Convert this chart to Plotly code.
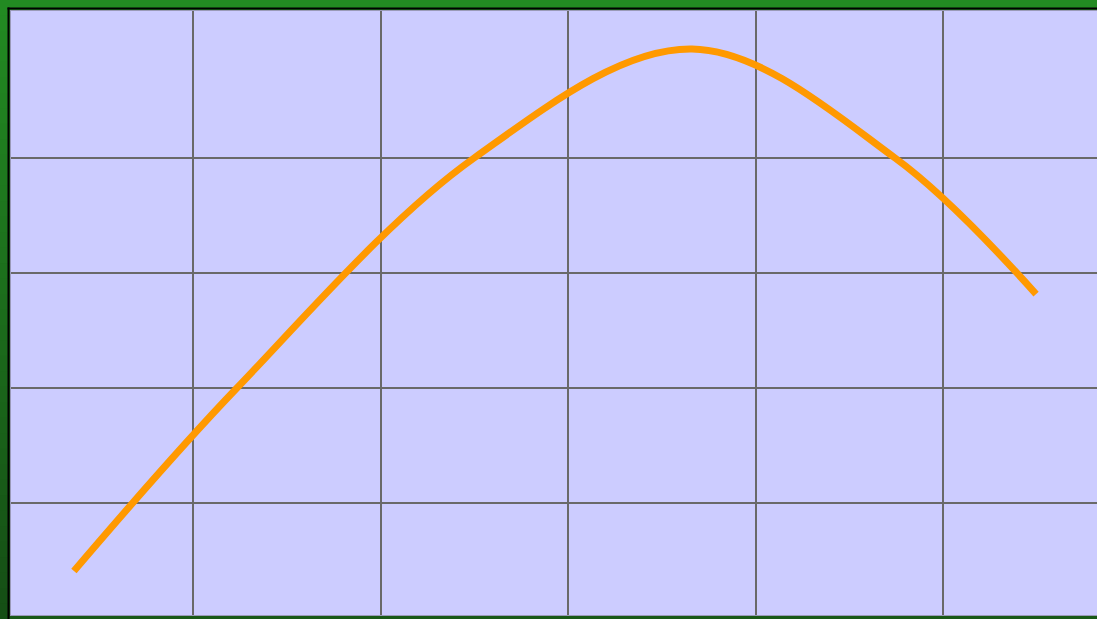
import plotly.graph_objects as go

# Curve readings (data units: x gridlines at 1..5, y gridlines at 1..4)
curve_x = [0.365, 1.229, 2.499, 3.661, 4.744, 5.496]
curve_y = [0.409, 1.991, 4.0, 4.948, 4.0, 2.817]

x_ticks = [1, 2, 3, 4, 5]
y_ticks = [1, 2, 3, 4]

W, H = 1097, 619
ML, MR, MT, MB = 10, 0, 10, 3
PW, PH = W - ML - MR, H - MT - MB

fig = go.Figure()
fig.add_trace(go.Scatter(
    x=curve_x, y=curve_y, mode="lines",
    line=dict(color="#FF9900", width=7, shape="spline", smoothing=1.0),
    hoverinfo="skip", showlegend=False,
))

shapes = []
# green vertical gradient in the left and bottom margins
top_c = (34, 139, 34)
bot_c = (21, 78, 21)
n = 40
y_lo = -MB / PH
y_hi = 1 + MT / PH
for i in range(n):
    t0 = i / n
    t1 = (i + 1) / n
    tm = (i + 0.5) / n
    c = tuple(round(bot_c[k] + (top_c[k] - bot_c[k]) * tm) for k in range(3))
    col = "rgb(%d,%d,%d)" % c
    shapes.append(dict(type="rect", xref="paper", yref="paper",
                       x0=-ML / PW, x1=0, y0=y_lo + (y_hi - y_lo) * t0,
                       y1=y_lo + (y_hi - y_lo) * t1 + 0.002,
                       fillcolor=col, line=dict(width=0), layer="below"))
shapes.append(dict(type="rect", xref="paper", yref="paper",
                   x0=0, x1=1, y0=-MB / PH, y1=0,
                   fillcolor="rgb(24,88,24)", line=dict(width=0), layer="below"))
# dark inset lines (left, top)
shapes.append(dict(type="line", xref="paper", yref="paper",
                   x0=-1.5 / PW, x1=-1.5 / PW, y0=-MB / PH, y1=1 + 2.5 / PH,
                   line=dict(color="#000000", width=2), layer="above"))
shapes.append(dict(type="line", xref="paper", yref="paper",
                   x0=-2.5 / PW, x1=1, y0=1 + 1.5 / PH, y1=1 + 1.5 / PH,
                   line=dict(color="#000000", width=2), layer="above"))
# light border on plot edge
shapes.append(dict(type="line", xref="paper", yref="paper",
                   x0=0.5 / PW, x1=0.5 / PW, y0=0, y1=1,
                   line=dict(color="#9a9ab8", width=1), layer="above"))
shapes.append(dict(type="line", xref="paper", yref="paper",
                   x0=0, x1=1, y0=1 - 0.5 / PH, y1=1 - 0.5 / PH,
                   line=dict(color="#9a9ab8", width=1), layer="above"))
shapes.append(dict(type="line", xref="paper", yref="paper",
                   x0=0, x1=1, y0=0.5 / PH, y1=0.5 / PH,
                   line=dict(color="#9a9ab8", width=1), layer="above"))

fig.update_layout(
    width=W, height=H,
    margin=dict(l=ML, r=MR, t=MT, b=MB, pad=0),
    paper_bgcolor="#228B22",
    plot_bgcolor="#CCCCFF",
    shapes=shapes,
    showlegend=False,
    xaxis=dict(range=[0.024, 5.821], tickvals=x_ticks, showticklabels=False,
               ticks="", showgrid=True, gridcolor="#696969", gridwidth=2,
               zeroline=False, showline=False, fixedrange=True),
    yaxis=dict(range=[0.0174, 5.287], tickvals=y_ticks, showticklabels=False,
               ticks="", showgrid=True, gridcolor="#696969", gridwidth=2,
               zeroline=False, showline=False, fixedrange=True),
)

fig.write_html("out.html", config={"displayModeBar": False},
               post_script="document.body.style.margin='0';document.body.style.overflow='hidden';")
